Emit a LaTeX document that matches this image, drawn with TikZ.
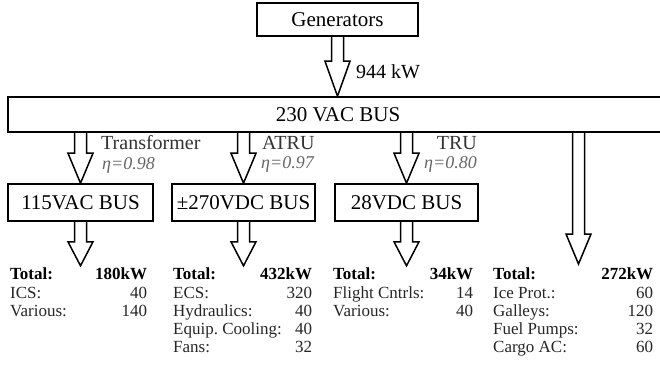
\documentclass[tikz,border=0pt]{standalone}
\usepackage{fontspec}
\setmainfont{Liberation Serif}
\usetikzlibrary{calc,positioning}

\tikzset{
    fatarrow/.style={to path={
        let \p1 = (\tikztostart), \p2 = (\tikztotarget) in
        (\x2-6pt,\y1) -- (\x2-6pt,\y2+#1) -- (\x2-12.5pt,\y2+#1) -- (\x2,\y2)
        -- (\x2+12.5pt,\y2+#1) -- (\x2+6pt,\y2+#1) -- (\x2+6pt,\y1)}},
    fatarrow/.default = 30pt
}

% bold total line spanning both columns of a load table
\newcommand{\totrow}[2]{\multicolumn{2}{@{}l@{}}{\makebox[#1]{\color{black}\bfseries Total:\hfill #2}}}

\begin{document}
\frenchspacing
\begin{tikzpicture}[
    x = 1pt, y = -1pt, % pixel grid of the reference
    busbox/.style = {draw, line width=1.6pt, inner sep=0pt,
        font=\fontsize{21}{24}\selectfont},
    conv/.style = {inner sep=0pt, text=black!80, font=\fontsize{20}{22}\selectfont},
    eff/.style = {inner sep=0pt, text=black!60, font=\fontsize{18}{20}\selectfont\itshape},
    loadtab/.style = {inner sep=0pt, anchor=north west, text=black!85,
        font=\fontsize{17}{18.2}\selectfont},
    flow/.style = {draw, line width=1.5pt, line join=miter}
    ]

    \path[use as bounding box, clip] (0,0) rectangle (660,378);

    % buses
    \node[busbox, minimum width=161pt, minimum height=33pt] (gen) at (337.5,19.5) {Generators};
    \node[busbox, minimum width=660pt, minimum height=35pt] (bus) at (338,114.5) {230 VAC BUS};
    \node[busbox, minimum width=145pt, minimum height=37pt] (b115) at (80.5,202.5) {115VAC BUS};
    \node[busbox, minimum width=143pt, minimum height=37pt] (b270) at (243.5,202.5) {±270VDC BUS};
    \node[busbox, minimum width=143pt, minimum height=37pt] (b28) at (406.5,202.5) {28VDC BUS};

    % arrow ends
    \coordinate[below=44pt of b115.south] (e115);
    \coordinate[below=44pt of b270.south] (e270);
    \coordinate[below=44pt of b28.south] (e28);
    \coordinate (e230) at (578.5,264);

    % power flows
    \path[flow] (gen.south) to[fatarrow=35pt] (bus.north -| gen.south);
    \path[flow] (bus.south -| b115.north) to[fatarrow] (b115.north);
    \path[flow] (bus.south -| b270.north) to[fatarrow] (b270.north);
    \path[flow] (bus.south -| b28.north) to[fatarrow] (b28.north);
    \path[flow] (bus.south -| e230) to[fatarrow] (e230);
    \path[flow] (b115.south) to[fatarrow=24pt] (e115);
    \path[flow] (b270.south) to[fatarrow=24pt] (e270);
    \path[flow] (b28.south) to[fatarrow=24pt] (e28);

    % converter labels
    \node[conv, anchor=west, text=black] (pgen) at (356,72) {944 kW};
    \node[conv, anchor=west] (ltr) at (101,143) {Transformer};
    \node[eff, anchor=west] (etr) at (102,165) {η=0.98};
    \node[conv, anchor=west] (latru) at (262,143) {ATRU};
    \node[eff, anchor=east] (eatru) at (314,164) {η=0.97};
    \node[conv, anchor=east] (ltru) at (477,143) {TRU};
    \node[eff, anchor=east] (etru) at (477,164) {η=0.80};

    % loads
    \node[loadtab] (l115) at (10,267) {%
        \begin{tabular*}{137pt}{@{}l@{\extracolsep{\fill}}r@{}}
        \totrow{137pt}{180kW}\\
        ICS: & 40\\
        Various: & 140
        \end{tabular*}};
    \node[loadtab] (l270) at (173,267) {%
        \begin{tabular*}{139pt}{@{}l@{\extracolsep{\fill}}r@{}}
        \totrow{139pt}{432kW}\\
        ECS: & 320\\
        Hydraulics: & 40\\
        Equip. Cooling: & 40\\
        Fans: & 32
        \end{tabular*}};
    \node[loadtab] (l28) at (333,267) {%
        \begin{tabular*}{140pt}{@{}l@{\extracolsep{\fill}}r@{}}
        \totrow{140pt}{34kW}\\
        Flight Cntrls: & 14\\
        Various: & 40
        \end{tabular*}};
    \node[loadtab] (l230) at (493,267) {%
        \begin{tabular*}{160pt}{@{}l@{\extracolsep{\fill}}r@{}}
        \totrow{160pt}{272kW}\\
        Ice Prot.: & 60\\
        Galleys: & 120\\
        Fuel Pumps: & 32\\
        Cargo AC: & 60
        \end{tabular*}};
\end{tikzpicture}
\end{document}
